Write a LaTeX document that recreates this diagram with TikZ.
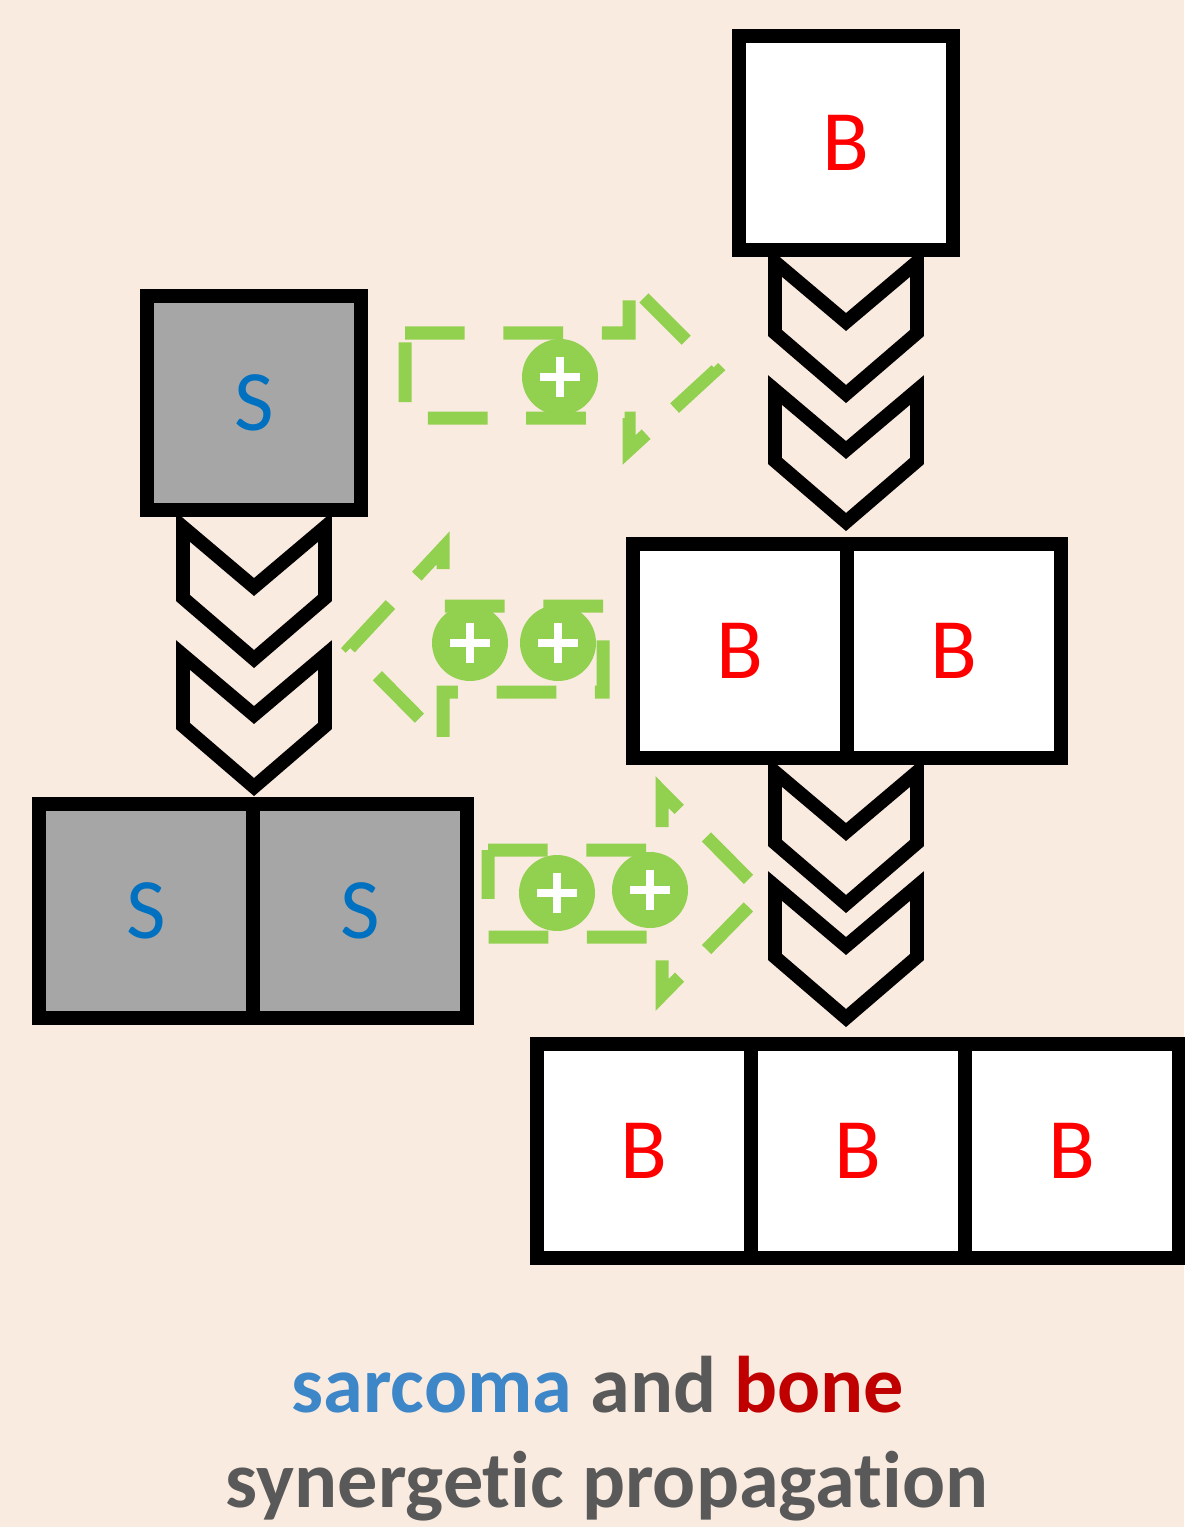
\documentclass[tikz,border=0pt]{standalone}
\usepackage{fontspec}
\setmainfont{Carlito}[Ligatures=NoCommon]
\usetikzlibrary{shapes,arrows}
\usetikzlibrary{calc}
\usetikzlibrary{positioning}

\definecolor{bgpeach}{RGB}{250,235,224}
\definecolor{sgray}{RGB}{166,166,166}
\definecolor{sblue}{RGB}{0,112,192}
\definecolor{bred}{RGB}{255,0,0}
\definecolor{pgreen}{RGB}{146,208,80}
\definecolor{tblue}{RGB}{61,135,201}
\definecolor{tgray}{RGB}{89,89,89}
\definecolor{tred}{RGB}{192,0,0}

\begin{document}
\begin{tikzpicture}[x=0.02cm,y=-0.02cm]
		\tikzstyle{cell} = [draw,line width=8pt,minimum width=4.28cm,minimum height=4.28cm,inner sep=0,outer sep=0,font=\fontsize{49}{49}\selectfont]
		\tikzstyle{bonecell} = [cell,fill=white,text=bred]
		\tikzstyle{sarccell} = [cell,fill=sgray,text=sblue]
		\tikzstyle{pluscircle} = [circle,fill=pgreen,minimum size=1.52cm,inner sep=0,
			path picture={\draw[white,line width=4.5pt]
				([xshift=-0.4cm]path picture bounding box.center) -- ([xshift=0.4cm]path picture bounding box.center)
				([yshift=-0.4cm]path picture bounding box.center) -- ([yshift=0.4cm]path picture bounding box.center);}]
		\tikzstyle{growtharrow} = [pgreen,line width=7.4pt,dash pattern=on 34pt off 22pt]
		\tikzstyle{chevron} = [line width=7.8pt,line join=miter]
		\tikzstyle{title} = [anchor=base,font=\fontsize{45.7}{46}\selectfont\bfseries]

		\useasboundingbox (0,0) rectangle (1184,1527);
		\fill[bgpeach] (0,0) rectangle (1184,1527);

		% Green dashed arrows
		\draw [growtharrow] (405,333) -- (629,333) -- (629,283) -- (716,370) -- (629,450) -- (629,418) -- (405,418) -- cycle;
		\draw [growtharrow] (603,606) -- (443,606) -- (443,548) -- (350,648) -- (443,742) -- (443,692) -- (603,692) -- cycle;
		\draw [growtharrow] (488,850) -- (662,850) -- (662,792) -- (762,893) -- (662,995) -- (662,937) -- (488,937) -- cycle;

		% Nodes
		\node [bonecell] (b1) at (846,143) {B};
		\node [sarccell] (s1) at (254,403) {S};
		\node [bonecell] (b21) at (740,651) {B};
		\node [bonecell, right=0pt of b21] (b22) {B};
		\node [sarccell] (s21) at (146,911) {S};
		\node [sarccell, right=0pt of s21] (s22) {S};
		\node [bonecell] (b31) at (644,1151) {B};
		\node [bonecell, right=0pt of b31] (b32) {B};
		\node [bonecell, right=0pt of b32] (b33) {B};

		% Plus signs on the arrows
		\node [pluscircle] (g1) at (560,377) {};
		\node [pluscircle] (g2) at (470,643) {};
		\node [pluscircle] (g3) at (558,643) {};
		\node [pluscircle] (g4) at (557,893) {};
		\node [pluscircle] (g5) at (650,890) {};

		% Chevrons
		\foreach \cx/\cy in {846/262, 846/390, 254/527, 254/655, 846/772, 846/886}
			\draw [chevron] (\cx,\cy) ++(-71,0) -- ++(71,60) -- ++(71,-60) -- ++(0,71) -- ++(-71,61) -- ++(-71,-61) -- cycle;

		% Caption
		\node [title] (title1) at (598,1412) {\textcolor{tblue}{sarcoma} \textcolor{tgray}{and} \textcolor{tred}{bone}};
		\node [title, text=tgray] (title2) at (607,1507) {synergetic propagation};
	\end{tikzpicture}
\end{document}
